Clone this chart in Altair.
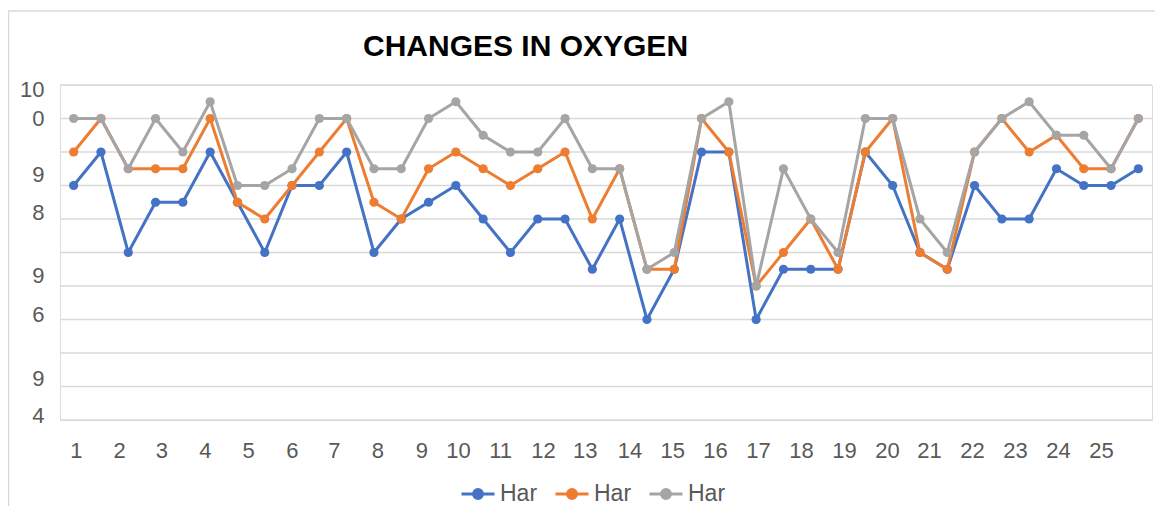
import json
import altair as alt
import pandas as pd

# ---- data ----
blue = [7, 8, 5, 6.5, 6.5, 8, 6.5, 5, 7, 7, 8, 5, 6, 6.5, 7, 6, 5, 6, 6, 4.5,
        6, 3, 4.5, 8, 8, 3, 4.5, 4.5, 4.5, 8, 7, 5, 4.5, 7, 6, 6, 7.5, 7, 7, 7.5]
orange = [8, 9, 7.5, 7.5, 7.5, 9, 6.5, 6, 7, 8, 9, 6.5, 6, 7.5, 8, 7.5, 7, 7.5, 8, 6,
          7.5, 4.5, 4.5, 9, 8, 4, 5, 6, 4.5, 8, 9, 5, 4.5, 8, 9, 8, 8.5, 7.5, 7.5, 9]
gray = [9, 9, 7.5, 9, 8, 9.5, 7, 7, 7.5, 9, 9, 7.5, 7.5, 9, 9.5, 8.5, 8, 8, 9, 7.5,
        7.5, 4.5, 5, 9, 9.5, 4, 7.5, 6, 5, 9, 9, 6, 5, 8, 9, 9.5, 8.5, 8.5, 7.5, 9]
series_keys = ["Har1", "Har2", "Har3"]
series_label = "Har"
series_colors = ["#4472C4", "#ED7D31", "#A5A5A5"]

x_labels = ["1", "2", "3", "4", "5", "6", "7", "8", "9", "10", "11", "12", "13",
            "14", "15", "16", "17", "18", "19", "20", "21", "22", "23", "24", "25"]
x_label_pos = [1.08, 2.67, 4.21, 5.81, 7.39, 8.99, 10.53, 12.13, 13.74, 15.08,
               16.62, 18.19, 19.72, 21.36, 22.93, 24.49, 26.07, 27.64, 29.22,
               30.79, 32.33, 33.91, 35.48, 37.06, 38.63]
y_labels = ["10", "0", "9", "8", "9", "6", "9", "4"]
y_label_pos = [9.87, 9.0, 7.32, 6.19, 4.30, 3.14, 1.23, 0.13]
grid_values = [0, 1, 2, 3, 4, 5, 6, 7, 8, 9, 10]
title_text = "CHANGES IN OXYGEN"

# ---- tables ----
rows = []
for key, vals in zip(series_keys, [blue, orange, gray]):
    for i, v in enumerate(vals):
        rows.append({"idx": i + 1, "value": v, "series": key})
df = pd.DataFrame(rows)
grid_df = pd.DataFrame({"g": grid_values})
one = pd.DataFrame({"a": [0]})

FONT = "Liberation Sans"
LABEL_COLOR = "#595959"
GRID_COLOR = "#d9d9d9"
W, H = 1092, 335

# y labels: the "0" sits left-aligned in the reference, pad it
y_label_text = [l + "\u00a0\u00a0" if l == "0" else l for l in y_labels]
x_expr = "{}[indexof({}, datum.value)]".format(
    json.dumps(x_labels), json.dumps(x_label_pos))
y_expr = "{}[indexof({}, datum.value)]".format(
    json.dumps(y_label_text, ensure_ascii=False), json.dumps(y_label_pos))

x_axis = alt.Axis(values=x_label_pos, labelExpr=x_expr, grid=False, ticks=False,
                  domain=False, labelFont=FONT, labelFontSize=22,
                  labelColor=LABEL_COLOR, labelPadding=20, labelBaseline="top",
                  labelFlush=False, labelOverlap=False, title=None)
y_axis = alt.Axis(values=y_label_pos, labelExpr=y_expr, grid=False, ticks=False,
                  domain=False, labelFont=FONT, labelFontSize=22,
                  labelColor=LABEL_COLOR, labelPadding=16, labelBaseline="middle",
                  labelFlush=False, labelOverlap=False, title=None)

X = alt.X("idx:Q", scale=alt.Scale(domain=[0.5, 40.5], nice=False, zero=False),
          axis=x_axis)
Y = alt.Y("value:Q", scale=alt.Scale(domain=[0, 10], nice=False, zero=False),
          axis=y_axis)

legend = alt.Legend(
    title=None, orient="none", legendX=400, legendY=391, direction="horizontal",
    labelExpr="'" + series_label + "'", labelFont=FONT, labelFontSize=23,
    labelColor=LABEL_COLOR, labelOffset=4, columnPadding=11, padding=0,
    symbolType="M-1,0L1,0M-0.27,0A0.27,0.27,0,1,0,0.27,0A0.27,0.27,0,1,0,-0.27,0Z",
    symbolSize=1089, symbolStrokeWidth=3,
)
color = alt.Color("series:N",
                  scale=alt.Scale(domain=series_keys, range=series_colors),
                  legend=legend)

grid = alt.Chart(grid_df).mark_rule(color=GRID_COLOR, strokeWidth=1.3).encode(
    y=alt.Y("g:Q", scale=alt.Scale(domain=[0, 10], nice=False, zero=False),
            axis=y_axis))

layers = [grid]
for key in series_keys:
    base = alt.Chart(df).transform_filter(alt.datum.series == key)
    layers.append(base.mark_line(strokeWidth=3).encode(x=X, y=Y, color=color))
    layers.append(base.mark_point(filled=True, size=85, opacity=1).encode(
        x=X, y=Y, color=color))

frame_top = alt.Chart(one).mark_rule(color=GRID_COLOR, strokeWidth=1.5).encode(
    x=alt.value(-52), x2=alt.value(W + 3), y=alt.value(-74))
frame_left = alt.Chart(one).mark_rule(color=GRID_COLOR, strokeWidth=1.5).encode(
    x=alt.value(-51.5), y=alt.value(-74), y2=alt.value(H + 86))
layers += [frame_top, frame_left]

chart = alt.layer(*layers).properties(
    width=W, height=H,
    autosize=alt.AutoSizeParams(type="none"),
    padding={"left": 52, "top": 77, "right": 3, "bottom": 86},
    title=alt.TitleParams(title_text, anchor="start", frame="group", dx=303,
                          offset=0, dy=75.5, baseline="alphabetic", font=FONT,
                          fontSize=30, fontWeight="bold", color="#000000"),
).configure_view(stroke=None).configure(background="white")

chart.save("out.html", embed_options={"renderer": "svg", "actions": False})
